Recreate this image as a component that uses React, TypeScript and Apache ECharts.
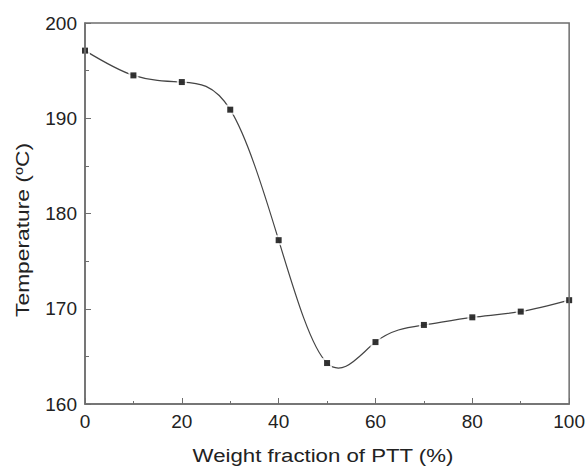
import React, { useEffect, useRef } from "react";
import * as echarts from "echarts";

// Weight fraction of PTT (%) and the measured temperature (°C)
const fractions = [0, 10, 20, 30, 40, 50, 60, 70, 80, 90, 100];
const temperatures = [197.1, 194.5, 193.8, 190.9, 177.2, 164.3, 166.5, 168.3, 169.1, 169.7, 170.9];

const xTicks = { min: 0, max: 100, interval: 20 };
const yTicks = { min: 160, max: 200, interval: 10 };

const FONT = "'Liberation Sans', Arial, sans-serif";
const AXIS = "#6e6e6e";
const TEXT = "#222";

// Slopes of a natural cubic spline through (xs, ys), one per knot.
function splineSlopes(xs: number[], ys: number[]): number[] {
  const n = xs.length;
  const h: number[] = [];
  for (let i = 0; i < n - 1; i++) h.push(xs[i + 1] - xs[i]);
  // second derivatives M, natural ends (M0 = Mn = 0), Thomas algorithm
  const a = new Array(n).fill(0);
  const b = new Array(n).fill(1);
  const c = new Array(n).fill(0);
  const d = new Array(n).fill(0);
  for (let i = 1; i < n - 1; i++) {
    a[i] = h[i - 1];
    b[i] = 2 * (h[i - 1] + h[i]);
    c[i] = h[i];
    d[i] = 6 * ((ys[i + 1] - ys[i]) / h[i] - (ys[i] - ys[i - 1]) / h[i - 1]);
  }
  for (let i = 1; i < n; i++) {
    const w = a[i] / b[i - 1];
    b[i] -= w * c[i - 1];
    d[i] -= w * d[i - 1];
  }
  const M = new Array(n).fill(0);
  M[n - 1] = d[n - 1] / b[n - 1];
  for (let i = n - 2; i >= 0; i--) M[i] = (d[i] - c[i] * M[i + 1]) / b[i];
  const m: number[] = [];
  for (let i = 0; i < n - 1; i++) {
    m.push((ys[i + 1] - ys[i]) / h[i] - (h[i] * (2 * M[i] + M[i + 1])) / 6);
  }
  const k = n - 1;
  m.push((ys[k] - ys[k - 1]) / h[k - 1] + (h[k - 1] * (M[k - 1] + 2 * M[k])) / 6);
  return m;
}

export default function App() {
  const ref = useRef<HTMLDivElement>(null);

  useEffect(() => {
    if (!ref.current) return;
    const chart = echarts.init(ref.current, null, { renderer: "svg" });
    const pts = fractions.map((x, i) => [x, temperatures[i]]);
    const slopes = splineSlopes(fractions, temperatures);

    const renderCurve = (_params: any, api: any) => {
      const p0 = api.coord(pts[0]);
      let d = `M${p0[0]},${p0[1]}`;
      for (let i = 0; i < pts.length - 1; i++) {
        const [x0, y0] = pts[i];
        const [x1, y1] = pts[i + 1];
        const h = (x1 - x0) / 3;
        const c1 = api.coord([x0 + h, y0 + slopes[i] * h]);
        const c2 = api.coord([x1 - h, y1 - slopes[i + 1] * h]);
        const e = api.coord([x1, y1]);
        d += ` C${c1[0]},${c1[1]} ${c2[0]},${c2[1]} ${e[0]},${e[1]}`;
      }
      return {
        type: "path",
        shape: { pathData: d },
        style: { fill: "none", stroke: "#444", lineWidth: 1.2 },
      };
    };

    chart.setOption({
      animation: false,
      backgroundColor: "#fff",
      grid: {
        left: 85,
        right: 17,
        top: 23,
        bottom: 65,
        show: true,
        borderColor: AXIS,
        borderWidth: 1.5,
        z: 10,
      },
      xAxis: {
        type: "value",
        z: 10,
        min: xTicks.min,
        max: xTicks.max,
        interval: xTicks.interval,
        axisLine: { lineStyle: { color: AXIS, width: 1.5 } },
        axisTick: { inside: true, length: 6, lineStyle: { color: AXIS } },
        minorTick: { show: true, splitNumber: 2, length: 3, lineStyle: { color: AXIS } },
        axisLabel: { fontFamily: FONT, fontSize: 19, color: TEXT, margin: 8 },
        splitLine: { show: false },
      },
      yAxis: {
        type: "value",
        z: 10,
        min: yTicks.min,
        max: yTicks.max,
        interval: yTicks.interval,
        axisLine: { lineStyle: { color: AXIS, width: 1.5 } },
        axisTick: { inside: true, length: 6, lineStyle: { color: AXIS } },
        minorTick: { show: true, splitNumber: 2, length: 4, lineStyle: { color: AXIS } },
        axisLabel: { fontFamily: FONT, fontSize: 19, color: TEXT, margin: 8 },
        splitLine: { show: false },
      },
      graphic: [
        {
          type: "text",
          x: 323,
          y: 455,
          scaleX: 1.17,
          style: {
            text: "Weight fraction of PTT (%)",
            font: `19px ${FONT}`,
            fill: TEXT,
            align: "center",
            verticalAlign: "middle",
          },
        },
        {
          type: "text",
          x: 22,
          y: 230,
          rotation: Math.PI / 2,
          scaleX: 1.2,
          style: {
            text: "Temperature ({sup|o}C)",
            font: `19px ${FONT}`,
            fill: TEXT,
            align: "center",
            verticalAlign: "middle",
            rich: {
              sup: { fontFamily: FONT, fontSize: 12, fill: TEXT, verticalAlign: "top", padding: [0, 0, 6, 0] },
            },
          },
        },
      ],
      series: [
        {
          type: "custom",
          data: [[fractions[0], temperatures[0]]],
          renderItem: renderCurve,
          silent: true,
          z: 2,
        },
        {
          // white halo that leaves a small gap in the curve around each marker
          type: "scatter",
          data: pts,
          symbol: "rect",
          symbolSize: 10,
          itemStyle: { color: "#fff" },
          silent: true,
          z: 3,
        },
        {
          type: "scatter",
          data: pts,
          symbol: "rect",
          symbolSize: 6,
          itemStyle: { color: "#000" },
          silent: true,
          z: 4,
        },
      ],
    });

    return () => chart.dispose();
  }, []);

  return <div ref={ref} style={{ position: "fixed", left: 0, top: 0, width: 588, height: 469 }} />;
}
